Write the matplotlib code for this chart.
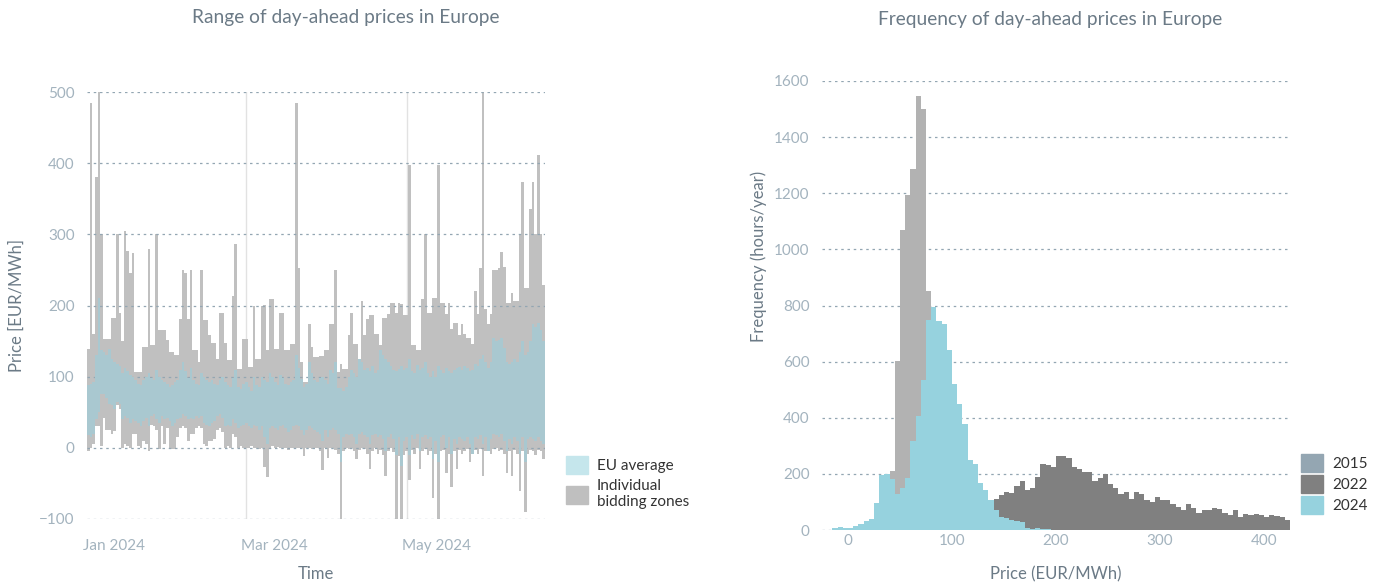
import matplotlib.pyplot as plt
from matplotlib.patches import Patch
import pandas as pd

# daily range of prices over all bidding zones (EUR/MWh), 1 Jan 2024 onwards
zone_max = [139, 484, 160, 380, 500, 300, 153, 153, 153, 183,
            183, 300, 190, 150, 304, 276, 246, 274, 107, 107,
            107, 141, 141, 280, 144, 144, 300, 165, 165, 166,
            151, 135, 135, 130, 130, 181, 250, 245, 181, 250,
            137, 137, 121, 250, 179, 179, 158, 148, 148, 125,
            190, 190, 148, 123, 123, 213, 286, 111, 111, 153,
            153, 114, 114, 200, 125, 125, 200, 200, 137, 209,
            209, 139, 139, 190, 190, 137, 137, 146, 146, 484,
            252, 121, 93, 93, 174, 141, 128, 128, 129, 129,
            137, 137, 174, 174, 250, 107, 118, 111, 111, 158,
            190, 146, 146, 118, 206, 158, 181, 186, 186, 160,
            160, 144, 183, 183, 188, 204, 204, 190, 204, 202,
            186, 186, 398, 144, 144, 137, 137, 209, 300, 190,
            190, 211, 211, 398, 204, 204, 188, 204, 167, 176,
            176, 158, 174, 160, 155, 155, 146, 220, 188, 252,
            500, 195, 174, 188, 250, 250, 252, 275, 254, 204,
            204, 218, 206, 206, 300, 373, 225, 225, 335, 373,
            300, 412, 300, 229]
zone_min = [-5, 0, 5, 30, 30, 2, 42, 25, 25, 20,
            23, 60, 55, 0, 5, 3, 0, 20, 20, 2,
            0, 10, 5, -5, 32, 30, 25, -2, 30, 5,
            28, -2, -2, -1, 15, 28, 30, 28, 10, 19,
            20, 28, 30, 28, 5, 3, 9, 9, 12, 25,
            28, 22, 0, 2, 0, 20, 15, 0, 3, 0,
            0, 0, 2, 0, 0, -2, 0, -27, -41, 0,
            2, 0, 1, 0, 0, 0, -3, 0, 0, 0,
            0, 0, -12, 0, 0, -2, 0, 0, -5, -31,
            0, -14, 0, 0, -3, -8, -100, -5, 0, -2,
            0, -5, -15, -3, 0, -2, -8, -30, -5, 0,
            -8, -3, -10, -40, -5, 0, -6, -100, -12, -100,
            -10, -5, -45, -3, -8, 0, -30, -5, -2, -10,
            -5, -70, -8, -100, -5, -3, -35, -8, -55, -5,
            -30, -3, -8, -5, -2, -20, -5, -3, -8, -2,
            -40, -5, -3, -8, -2, 0, -5, -3, -8, -35,
            -5, -40, -3, -8, -60, -5, -90, -8, -3, -5,
            -10, -3, -5, -15]
# daily range of the EU average price
eu_max = [88, 90, 92, 130, 210, 137, 135, 130, 139, 125,
          120, 118, 115, 105, 112, 108, 102, 100, 95, 90,
          88, 96, 100, 105, 98, 95, 110, 100, 95, 92,
          90, 85, 88, 92, 96, 110, 120, 108, 98, 112,
          95, 90, 88, 105, 100, 95, 92, 95, 90, 88,
          96, 100, 92, 88, 85, 98, 110, 86, 82, 90,
          92, 85, 80, 100, 88, 85, 100, 95, 92, 105,
          100, 92, 88, 102, 98, 90, 88, 92, 95, 130,
          112, 97, 85, 90, 121, 105, 95, 92, 98, 100,
          95, 90, 110, 105, 120, 84, 84, 80, 85, 100,
          110, 105, 100, 125, 120, 110, 112, 108, 115, 105,
          110, 137, 130, 125, 120, 115, 110, 108, 111, 115,
          110, 112, 125, 108, 105, 116, 110, 112, 120, 105,
          100, 108, 100, 115, 110, 105, 112, 108, 105, 110,
          112, 114, 110, 115, 112, 108, 110, 118, 115, 125,
          130, 120, 112, 120, 155, 150, 152, 155, 140, 121,
          118, 121, 125, 120, 135, 150, 130, 135, 150, 174,
          170, 175, 165, 150]
eu_min = [18, 15, 20, 40, 50, 75, 75, 70, 62, 60,
          55, 65, 62, 40, 45, 42, 35, 40, 38, 35,
          30, 38, 42, 30, 45, 48, 40, 35, 45, 40,
          42, 38, 30, 35, 40, 42, 48, 45, 40, 42,
          40, 45, 42, 45, 35, 32, 30, 35, 38, 45,
          48, 42, 30, 32, 30, 40, 35, 28, 30, 32,
          35, 30, 28, 32, 30, 25, 30, 15, 5, 28,
          30, 28, 25, 30, 32, 28, 22, 25, 30, 32,
          30, 25, 18, 25, 30, 28, 25, 22, 20, 10,
          25, 15, 25, 28, 25, 20, -20, 15, 20, 18,
          20, 15, 5, 20, 22, 18, 15, 5, 18, 20,
          15, 18, 12, -5, 15, 20, 12, -10, 15, -25,
          10, 15, -10, 18, 12, 20, -5, 15, 18, 12,
          15, -15, 10, -20, 15, 18, 0, 15, -8, 12,
          5, 15, 12, 10, 15, 5, -8, 15, 12, 18,
          5, 15, -5, 12, 20, 18, 15, 20, 10, -5,
          12, 5, 15, 10, -8, 15, -20, 12, 15, 12,
          10, 15, 10, 5]
month_ticks = ['2024-01-01', '2024-03-01', '2024-05-01']
month_labels = ['Jan 2024', 'Mar 2024', 'May 2024']

# hourly price histograms, 5 EUR/MWh bins (left edge) -> hours per year
bins_2015 = [20, 25, 30, 35, 40, 45, 50, 55, 60, 65, 70, 75, 80, 85, 90, 95, 100, 105, 110]
hours_2015 = [20, 50, 110, 160, 209, 601, 1068, 1193, 1286, 1546, 1502, 851, 480, 260, 120, 60, 30, 15, 8]
bins_2022 = [100, 105, 110, 115, 120, 125, 130, 135,
             140, 145, 150, 155, 160, 165, 170, 175, 180, 185, 190, 195,
             200, 205, 210, 215, 220, 225, 230, 235, 240, 245, 250, 255,
             260, 265, 270, 275, 280, 285, 290, 295, 300, 305, 310, 315,
             320, 325, 330, 335, 340, 345, 350, 355, 360, 365, 370, 375,
             380, 385, 390, 395, 400, 405, 410, 415, 420]
hours_2022 = [30, 35, 40, 50, 60, 70, 85, 95,
              112, 124, 135, 132, 157, 176, 143, 150, 188, 234, 230, 224,
              262, 262, 258, 226, 219, 208, 208, 176, 187, 198, 165, 151,
              130, 137, 112, 137, 130, 108, 98, 119, 108, 108, 94, 83,
              73, 94, 80, 62, 73, 73, 80, 76, 62, 55, 73, 48,
              58, 55, 58, 55, 48, 55, 51, 48, 37]
bins_2024 = [-15, -10, -5, 0, 5, 10, 15, 20, 25, 30, 35, 40, 45, 50, 55, 60, 65, 70,
             75, 80, 85, 90, 95, 100, 105, 110, 115, 120, 125, 130, 135, 140, 145,
             150, 155, 160, 165, 170, 175, 180, 185, 190]
hours_2024 = [8, 12, 8, 8, 15, 22, 31, 40, 95, 196, 200, 181, 130, 149, 184, 316, 405, 533,
              750, 794, 743, 735, 640, 519, 448, 377, 249, 235, 168, 142, 107, 73, 47,
              43, 36, 31, 28, 8, 3, 7, 5, 2]

title_col = '#6b7a86'
tick_col = '#a3b3be'
grid_col = '#93a6b2'

plt.rcParams['font.family'] = ['Lato', 'DejaVu Sans']

fig = plt.figure(figsize=(13.81, 5.85), dpi=100)

# ---- left: daily range of prices
ax1 = fig.add_axes([87 / 1381, 1 - 519 / 585, 458 / 1381, 427 / 585])
days = pd.date_range('2024-01-01', periods=len(zone_max))
ax1.bar(days, [hi - lo for hi, lo in zip(zone_max, zone_min)], bottom=zone_min,
        width=1.0, color='#c0c0c0', linewidth=0, zorder=2)
ax1.bar(days, [hi - lo for hi, lo in zip(eu_max, eu_min)], bottom=eu_min,
        width=1.0, color='#a9c8d0', linewidth=0, zorder=3)
for t in month_ticks[1:]:
    ax1.axvline(pd.Timestamp(t), color='#e2e2e2', lw=1, zorder=1)
ax1.set_xlim(days[0] - pd.Timedelta(hours=12), days[-1] + pd.Timedelta(hours=12))
ax1.set_ylim(-100, 500)
ax1.set_yticks(range(-100, 501, 100))
ax1.yaxis.grid(True, color=grid_col, linestyle=(0, (2, 3)), lw=0.9, zorder=4)
ax1.set_axisbelow(False)
# month labels start just left of their tick
ax1.set_xticks([pd.Timestamp(t) for t in month_ticks])
ax1.set_xticklabels([])
for t, lab in zip(month_ticks, month_labels):
    ax1.annotate(lab, xy=(pd.Timestamp(t), 0), xycoords=('data', 'axes fraction'),
                 xytext=(-5, -27), textcoords='offset pixels', ha='left', va='center',
                 fontsize=11, color=tick_col)
ax1.set_ylabel('Price [EUR/MWh]', color=title_col, fontsize=12, labelpad=10)
ax1.set_xlabel('Time', color=title_col, fontsize=12, labelpad=25)

# ---- right: histograms
ax2 = fig.add_axes([822 / 1381, 1 - 530 / 585, 468 / 1381, 449 / 585])
ax2.bar(bins_2015, hours_2015, width=5, align='edge', color='#b2b2b2', linewidth=0, zorder=2)
ax2.bar(bins_2022, hours_2022, width=5, align='edge', color='#808080', linewidth=0, zorder=3)
ax2.bar(bins_2024, hours_2024, width=5, align='edge', color='#96d2de', linewidth=0, zorder=4)
ax2.set_xlim(-25, 425)
ax2.set_ylim(0, 1600)
ax2.set_yticks(range(0, 1601, 200))
ax2.set_xticks([0, 100, 200, 300, 400])
ax2.yaxis.grid(True, color=grid_col, linestyle=(0, (2, 3)), lw=0.9, zorder=1)
ax2.set_axisbelow(True)
ax2.set_xlabel('Price (EUR/MWh)', color=title_col, fontsize=12, labelpad=13)
fig.text(759 / 1381, 1 - 256 / 585, 'Frequency (hours/year)', rotation=90,
         color=title_col, fontsize=12, ha='center', va='center')

for ax in (ax1, ax2):
    for s in ax.spines.values():
        s.set_visible(False)
    ax.tick_params(length=0, labelsize=11, labelcolor=tick_col, pad=9)
ax2.tick_params(axis='x', pad=3)

fig.text(0.25, 1 - 18 / 585, 'Range of day-ahead prices in Europe', ha='center', va='center',
         color=title_col, fontsize=13.8)
fig.text(1050 / 1381, 1 - 20 / 585, 'Frequency of day-ahead prices in Europe', ha='center',
         va='center', color=title_col, fontsize=13.8)

# legends
fig.legend([Patch(color='#c5e6ec'), Patch(color='#bfbfbf')],
           ['EU average', 'Individual\nbidding zones'],
           loc='upper left', bbox_to_anchor=(552 / 1381, 1 - 442 / 585), frameon=False,
           handlelength=1.45, handleheight=1.45, handletextpad=0.6, labelspacing=0.35,
           fontsize=11, labelcolor='#333333')
fig.legend([Patch(color='#94a6b2'), Patch(color='#808080'), Patch(color='#96d2de')],
           ['2015', '2022', '2024'],
           loc='upper left', bbox_to_anchor=(1287 / 1381, 1 - 440 / 585), frameon=False,
           handlelength=1.45, handleheight=1.45, handletextpad=0.6, labelspacing=0.2,
           fontsize=11, labelcolor='#333333')

fig.savefig('out.png', dpi=100)
